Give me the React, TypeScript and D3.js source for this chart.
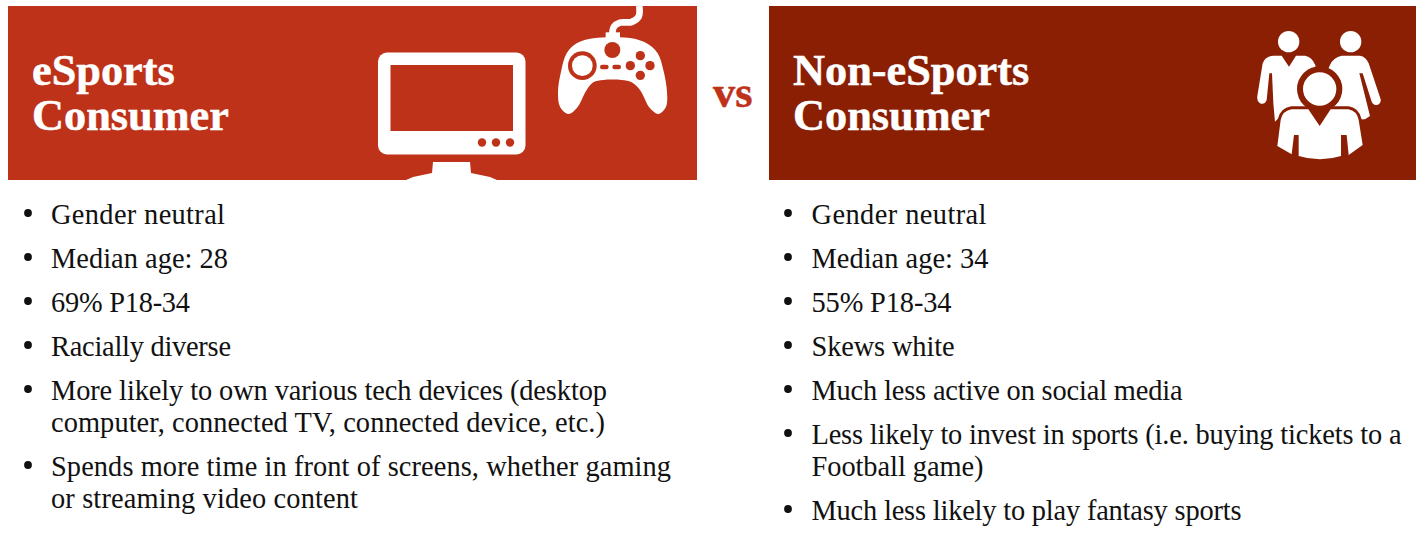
import React from "react";
import * as d3 from "d3";

const W = 1419, H = 556;
const leftTitle = ["eSports", "Consumer"];
const rightTitle = ["Non-eSports", "Consumer"];
const leftBullets = [
  ["Gender neutral"],
  ["Median age: 28"],
  ["69% P18-34"],
  ["Racially diverse"],
  ["More likely to own various tech devices (desktop", "computer, connected TV, connected device, etc.)"],
  ["Spends more time in front of screens, whether gaming", "or streaming video content"],
];
const rightBullets = [
  ["Gender neutral"],
  ["Median age: 34"],
  ["55% P18-34"],
  ["Skews white"],
  ["Much less active on social media"],
  ["Less likely to invest in sports (i.e. buying tickets to a", "Football game)"],
  ["Much less likely to play fantasy sports"],
];
// rendered line lengths, used only to fit the substitute font to the original's measure
const leftFit = [[174], [177], [139], [180], [556, 554], [620, 307]];
const rightFit = [[175], [177], [140], [143], [371], [590, 172], [430]];
const RED = "#bd3218", DARK = "#8a1f04";
const SERIF = "'Liberation Serif', serif";

const smooth = d3.line().curve(d3.curveCatmullRomClosed.alpha(0.5));
const padBody: [number, number][] = [[757,112],[700,115],[650,130],[620,160],[603,215],[594,275],[600,320],[625,342],[650,325],[680,270],[700,247],[730,240],[785,240],[815,247],[840,270],[870,325],[895,342],[918,320],[921,275],[910,210],[893,160],[860,130],[815,115]];
const cable: [number, number][] = [[757,100],[762,80],[780,68],[815,66],[836,50],[838,18]];

function bullets(items: string[][], fit: number[][], textX: number, dotX: number) {
  const rows: React.ReactNode[] = [];
  let y = 223.5;
  items.forEach((lines, i) => {
    rows.push(<circle key={`d${i}`} cx={dotX} cy={y - 10.5} r={3.9} fill="#111" />);
    lines.forEach((t, j) => {
      rows.push(
        <text key={`t${i}${j}`} x={textX} y={y + j * 32} fontFamily={SERIF} fontSize={28.4} fill="#111"
          textLength={fit[i][j]} lengthAdjust="spacing">{t}</text>
      );
    });
    y += 44 + (lines.length - 1) * 32;
  });
  return rows;
}

export default function App() {
  return (
    <svg width={W} height={H} style={{ position: "absolute", left: 0, top: 0 }}>
      <rect width={W} height={H} fill="#fff" />
      <rect x={8} y={6} width={689} height={174} fill={RED} />
      <rect x={769} y={6} width={647} height={174} fill={DARK} />
      {leftTitle.map((t, i) => (
        <text key={t} x={32} y={84.5 + i * 45} fontFamily={SERIF} fontWeight="bold" fontSize={44.3} fill="#fff" stroke="#fff" strokeWidth={0.5}>{t}</text>
      ))}
      {rightTitle.map((t, i) => (
        <text key={t} x={793} y={84.5 + i * 45} fontFamily={SERIF} fontWeight="bold" fontSize={44.3} fill="#fff" stroke="#fff" strokeWidth={0.5}>{t}</text>
      ))}
      <text x={713} y={107} fontFamily={SERIF} fontWeight="bold" fontSize={44.3} fill={RED} stroke={RED} strokeWidth={0.5}>vs</text>

      {/* monitor */}
      <rect x={378} y={52.5} width={147.5} height={102} rx={9} fill="#fff" />
      <rect x={390.5} y={65} width={122.5} height={66} fill={RED} />
      {[482, 496, 510].map((cx) => <circle key={cx} cx={cx} cy={142.5} r={4.2} fill={RED} />)}
      <path d="M433 162H470L471 173L490 177L497 180H406L413 177L432 173Z" fill="#fff" />

      {/* gamepad */}
      <g transform="translate(360,0) scale(0.33333)">
        <path d={smooth(padBody) ?? ""} fill="#fff" />
        <path d={d3.line().curve(d3.curveCatmullRom)(cable) ?? ""} fill="none" stroke="#fff" strokeWidth={20} />
        <rect x={737} y={97} width={43} height={20} fill="#fff" />
        <circle cx={757} cy={150} r={24} fill={RED} />
        <circle cx={667} cy={197} r={43} fill={RED} />
        <circle cx={667} cy={197} r={31} fill="#fff" />
        <rect x={720} y={194} width={26} height={14} rx={7} fill={RED} />
        <rect x={757} y={194} width={26} height={14} rx={7} fill={RED} />
        {[[811, 197], [841, 167], [870, 197], [841, 226]].map(([cx, cy]) => <circle key={cx + "" + cy} cx={cx} cy={cy} r={14} fill={RED} />)}
      </g>

      {/* people */}
      <g transform="translate(1240,20) scale(0.33333)" fill="#fff">
        <circle cx={146} cy={65} r={32} />
        <circle cx={332} cy={65} r={32} />
        <path d="M100 107H125L147 140L168 107H195Q215 110 226 135L240 260L130 280L105 305L100 250L96 160H88L80 240Q72 258 58 248Q50 242 52 228L68 130Q75 110 100 107Z" />
        <path d="M305 107H360Q378 110 386 130L422 238Q424 250 412 255Q400 256 395 245L368 160H358L390 288L375 298L300 300L240 200L270 135Q280 112 305 107Z" />
        <circle cx={239} cy={207} r={68} fill={DARK} />
        <circle cx={239} cy={207} r={50} />
        <path d="M155 268H205L239 318L272 268H325Q350 272 356 300L368 375L326 405L320 345H303V408Q240 428 176 408V345H162L155 403L112 378L122 300Q128 272 155 268Z" stroke={DARK} strokeWidth={18} paintOrder="stroke" />
      </g>

      {bullets(leftBullets, leftFit, 51, 28)}
      {bullets(rightBullets, rightFit, 811.5, 788)}
    </svg>
  );
}
